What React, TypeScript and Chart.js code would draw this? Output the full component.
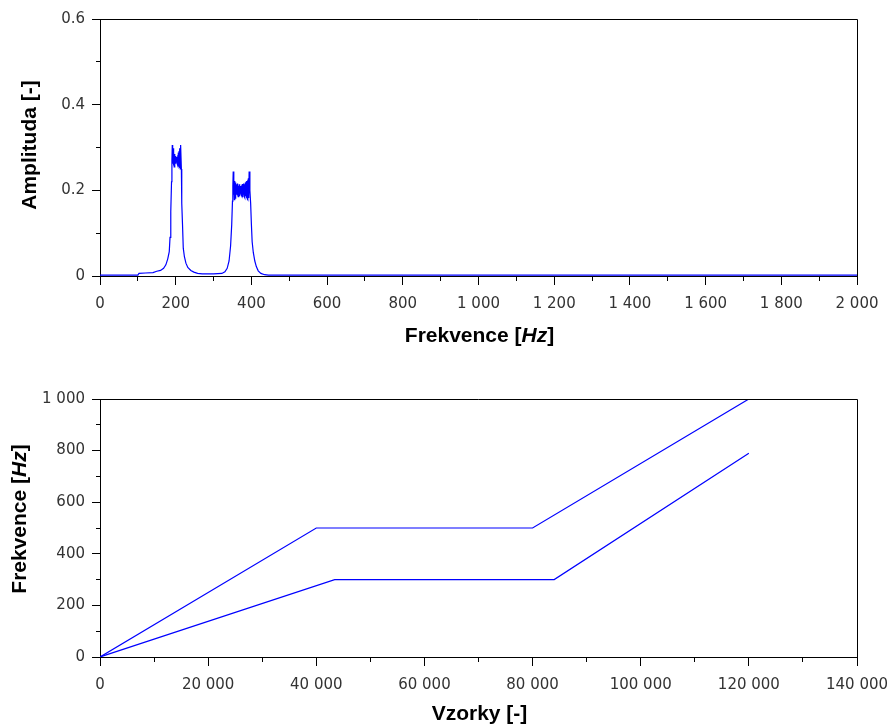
import { useEffect, useRef } from 'react';
import { Chart, registerables } from 'chart.js';

Chart.register(...registerables);

// ---------------- data ----------------
const spectrumFreqHz = [
  0, 50, 100, 103, 120, 140, 150, 160, 168, 174, 179, 183, 185, 187, 189, 190,
  191, 192, 193, 194, 195, 196, 197, 198, 199, 200, 201, 202, 203, 204, 205, 206,
  207, 208, 209, 210, 211, 212, 213,
  215, 216, 218, 220, 223, 227, 232, 240, 248, 258, 270, 300, 322, 330, 336, 341,
  345, 348, 350, 351,
  352, 353, 354, 355, 356, 357, 358, 359, 360, 361, 362, 363, 364, 365, 366, 367,
  368, 369, 370, 371, 372, 373, 374, 375, 376, 377, 378, 379, 380, 381, 382, 383,
  384, 385, 386, 387, 388, 389, 390, 391, 392, 393, 394,
  396, 398, 400, 402, 405, 409, 413, 418, 425, 435, 445, 2000,
];
const spectrumAmplitude = [
  0.002, 0.002, 0.002, 0.006, 0.007, 0.008, 0.011, 0.013, 0.018, 0.026, 0.04, 0.057, 0.09, 0.15, 0.22, 0.27,
  0.306, 0.262, 0.298, 0.258, 0.29, 0.255, 0.285, 0.26, 0.28, 0.262, 0.276, 0.265, 0.278, 0.262, 0.282, 0.258,
  0.288, 0.255, 0.292, 0.252, 0.298, 0.25, 0.306,
  0.25, 0.17, 0.12, 0.065, 0.045, 0.03, 0.02, 0.013, 0.009, 0.006, 0.005, 0.005, 0.006, 0.01, 0.018, 0.035,
  0.07, 0.12, 0.175, 0.21,
  0.244, 0.19, 0.226, 0.178, 0.222, 0.182, 0.218, 0.186, 0.214, 0.19, 0.212, 0.188, 0.216, 0.185, 0.21, 0.19,
  0.214, 0.186, 0.21, 0.192, 0.208, 0.19, 0.212, 0.187, 0.215, 0.184, 0.212, 0.19, 0.216, 0.186, 0.214, 0.183,
  0.218, 0.186, 0.22, 0.182, 0.222, 0.18, 0.225, 0.178, 0.228, 0.182, 0.244,
  0.2, 0.17, 0.12, 0.08, 0.055, 0.035, 0.022, 0.012, 0.006, 0.003, 0.002, 0.002,
];

const upperTrackSamples = [0, 40000, 80000, 120000];
const upperTrackFreq = [0, 500, 500, 1000];
const lowerTrackSamples = [0, 43400, 84000, 120000];
const lowerTrackFreq = [0, 300, 300, 790];

const spectrumXTicks = [0, 200, 400, 600, 800, 1000, 1200, 1400, 1600, 1800, 2000];
const spectrumYTicks = [0, 0.2, 0.4, 0.6];
const trackXTicks = [0, 20000, 40000, 60000, 80000, 100000, 120000, 140000];
const trackYTicks = [0, 200, 400, 600, 800, 1000];

// ---------------- helpers ----------------
const TICK_FONT = { family: "'DejaVu Sans', sans-serif", size: 15 };
const TITLE_FONT = "'Liberation Sans', Arial, sans-serif";
const TITLE_SIZE = 21;

const inList = (list: number[], v: number) => list.some((m) => Math.abs(m - v) < 1e-7 * Math.max(1, Math.abs(m)));
const fmtThousands = (v: number) => String(Math.round(v)).replace(/\B(?=(\d{3})+(?!\d))/g, ' ');
const fmtDecimal = (v: number) => String(Number(v.toFixed(1)));

type Part = { text: string; italic?: boolean };

function drawParts(ctx: CanvasRenderingContext2D, parts: Part[], cx: number, baseline: number) {
  const fontOf = (p: Part) => `${p.italic ? 'italic ' : ''}bold ${TITLE_SIZE}px ${TITLE_FONT}`;
  let total = 0;
  for (const p of parts) {
    ctx.font = fontOf(p);
    total += ctx.measureText(p.text).width;
  }
  let x = cx - total / 2;
  ctx.textAlign = 'left';
  ctx.textBaseline = 'alphabetic';
  for (const p of parts) {
    ctx.font = fontOf(p);
    ctx.fillText(p.text, x, baseline);
    x += ctx.measureText(p.text).width;
  }
}

function decorPlugin(opts: {
  xMajor: number[];
  yMajor: number[];
  xTitle: Part[];
  xTitleBaseline: number;
  yTitle: Part[];
  yTitleX: number;
  yTitleY: number;
}) {
  return {
    id: 'decor',
    afterDraw(chart: any) {
      const { ctx, chartArea: a, scales } = chart;
      const xs = scales.x;
      const ys = scales.y;
      ctx.save();
      ctx.strokeStyle = '#000';
      ctx.lineWidth = 1;
      ctx.beginPath();
      const bottom = Math.floor(a.bottom);
      const left = Math.floor(a.left) + 0.5;
      for (const t of xs.ticks) {
        const px = Math.floor(xs.getPixelForValue(t.value)) + 0.5;
        const len = inList(opts.xMajor, t.value) ? 9 : 5;
        ctx.moveTo(px, bottom);
        ctx.lineTo(px, bottom + len);
      }
      for (const t of ys.ticks) {
        const py = Math.floor(ys.getPixelForValue(t.value)) + 0.5;
        const len = inList(opts.yMajor, t.value) ? 9 : 5;
        ctx.moveTo(left + 0.5, py);
        ctx.lineTo(left + 0.5 - len, py);
      }
      // frame top & right
      const top = Math.floor(a.top) + 0.5;
      const right = Math.floor(a.right) + 0.5;
      ctx.moveTo(left - 0.5, top);
      ctx.lineTo(right, top);
      ctx.lineTo(right, Math.floor(a.bottom) + 0.5);
      ctx.stroke();

      ctx.fillStyle = '#000';
      drawParts(ctx, opts.xTitle, (a.left + a.right) / 2 + 1, opts.xTitleBaseline);
      ctx.save();
      ctx.translate(opts.yTitleX, opts.yTitleY);
      ctx.rotate(-Math.PI / 2);
      drawParts(ctx, opts.yTitle, 0, 0);
      ctx.restore();
      ctx.restore();
    },
  };
}

function axisCommon(min: number, max: number, step: number, majors: number[], fmt: (v: number) => string, padding: number) {
  return {
    type: 'linear' as const,
    min,
    max,
    grid: { display: true, drawOnChartArea: false, drawTicks: true, tickLength: 8, tickColor: 'rgba(0,0,0,0)' },
    border: { display: true, color: '#000', width: 1 },
    ticks: {
      stepSize: step,
      autoSkip: false,
      maxRotation: 0,
      minRotation: 0,
      padding,
      color: '#333',
      font: TICK_FONT,
      callback: (v: any) => (inList(majors, Number(v)) ? fmt(Number(v)) : ''),
    },
  };
}

function buildChart(
  canvas: HTMLCanvasElement,
  datasets: { xs: number[]; ys: number[] }[],
  x: any,
  y: any,
  yWidth: number,
  xHeight: number,
  padTop: number,
  plugin: any
) {
  return new Chart(canvas, {
    type: 'line',
    data: {
      datasets: datasets.map((d) => ({
        data: d.xs.map((xv, i) => ({ x: xv, y: d.ys[i] })),
        borderColor: '#0000ff',
        borderWidth: 1.2,
        pointRadius: 0,
        tension: 0,
        fill: false,
      })),
    },
    options: {
      responsive: false,
      animation: false,
      devicePixelRatio: 1,
      layout: { padding: { top: padTop, right: 36, left: 0, bottom: 0 } },
      plugins: { legend: { display: false }, tooltip: { enabled: false }, title: { display: false } },
      scales: {
        x: {
          ...x,
          afterFit: (s: any) => {
            s.height = xHeight;
            s.paddingLeft = 0;
            s.paddingRight = 0;
          },
        },
        y: {
          ...y,
          afterFit: (s: any) => {
            s.width = yWidth;
            s.paddingTop = 0;
            s.paddingBottom = 0;
          },
        },
      },
    },
    plugins: [plugin],
  } as any);
}

export default function App() {
  const topRef = useRef<HTMLCanvasElement>(null);
  const botRef = useRef<HTMLCanvasElement>(null);

  useEffect(() => {
    const top = buildChart(
      topRef.current!,
      [{ xs: spectrumFreqHz, ys: spectrumAmplitude }],
      axisCommon(0, 2000, 100, spectrumXTicks, fmtThousands, 11),
      axisCommon(0, 0.6, 0.1, spectrumYTicks, fmtDecimal, 7),
      100,
      370 - 276,
      19,
      decorPlugin({
        xMajor: spectrumXTicks,
        yMajor: spectrumYTicks,
        xTitle: [{ text: 'Frekvence [' }, { text: 'Hz', italic: true }, { text: ']' }],
        xTitleBaseline: 342,
        yTitle: [{ text: 'Amplituda [-]' }],
        yTitleX: 36,
        yTitleY: 145,
      })
    );
    const bot = buildChart(
      botRef.current!,
      [
        { xs: upperTrackSamples, ys: upperTrackFreq },
        { xs: lowerTrackSamples, ys: lowerTrackFreq },
      ],
      axisCommon(0, 140000, 10000, trackXTicks, fmtThousands, 11),
      axisCommon(0, 1000, 100, trackYTicks, fmtThousands, 7),
      100,
      357 - (657 - 370),
      29,
      decorPlugin({
        xMajor: trackXTicks,
        yMajor: trackYTicks,
        xTitle: [{ text: 'Vzorky [-]' }],
        xTitleBaseline: 720 - 370,
        yTitle: [{ text: 'Frekvence [' }, { text: 'Hz', italic: true }, { text: ']' }],
        yTitleX: 26,
        yTitleY: 519 - 370,
      })
    );
    return () => {
      top.destroy();
      bot.destroy();
    };
  }, []);

  return (
    <div style={{ position: 'fixed', left: 0, top: 0, width: 893, height: 727, background: '#fff' }}>
      <canvas ref={topRef} width={893} height={370} style={{ position: 'absolute', left: 0, top: 0 }} />
      <canvas ref={botRef} width={893} height={357} style={{ position: 'absolute', left: 0, top: 370 }} />
    </div>
  );
}
